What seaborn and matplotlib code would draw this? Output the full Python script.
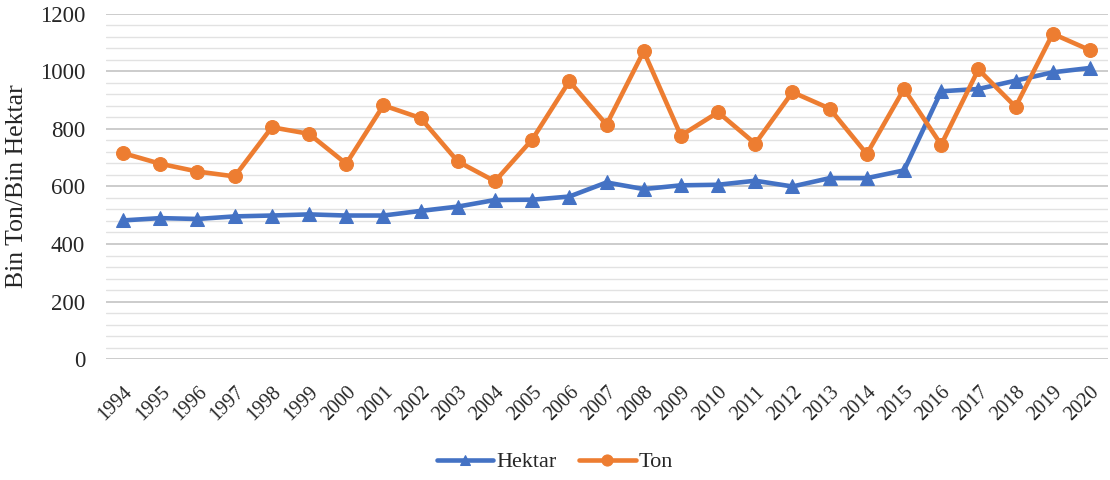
import matplotlib
matplotlib.use("Agg")
import matplotlib.pyplot as plt
import matplotlib.transforms as mtransforms
import seaborn as sns
import pandas as pd
from matplotlib.ticker import MultipleLocator

years = list(range(1994, 2021))
hektar = [482, 490, 487, 496, 499, 503, 499, 499, 515, 530, 553, 554, 565, 614,
          591, 604, 606, 620, 600, 629, 629, 656, 931, 939, 968, 997, 1012]
ton = [716, 679, 652, 635, 806, 783, 679, 882, 838, 687, 618, 763, 966, 815,
       1070, 777, 858, 749, 928, 871, 713, 939, 745, 1007, 877, 1131, 1074]
year_labels = [str(y) for y in years]

sns.set_theme(style="white")
plt.rcParams['font.family'] = ['Liberation Serif', 'DejaVu Serif']

fig = plt.figure(figsize=(11.1, 4.8), dpi=100)
ax = fig.add_axes([0.0955, 0.252, 0.9025, 0.719])

pos = list(range(len(years)))
df = pd.DataFrame({"x": pos, "Hektar": hektar, "Ton": ton})

sns.lineplot(data=df, x="x", y="Hektar", ax=ax, color="#4472C4", linewidth=3.3,
             marker="^", markersize=9.5, markeredgecolor="#4472C4", label="Hektar", zorder=3)
sns.lineplot(data=df, x="x", y="Ton", ax=ax, color="#ED7D31", linewidth=3.3,
             marker="o", markersize=10, markeredgecolor="#ED7D31", label="Ton", zorder=4)

ax.set_ylim(0, 1200)
ax.set_xlim(-0.46, len(years) - 1 + 0.48)
ax.yaxis.set_major_locator(MultipleLocator(200))
ax.yaxis.set_minor_locator(MultipleLocator(40))
ax.grid(which="major", axis="y", color="#c8c8c8", linewidth=1.3)
ax.grid(which="minor", axis="y", color="#e2e2e2", linewidth=1.0)
ax.set_axisbelow(True)
for s in ax.spines.values():
    s.set_visible(False)

ax.set_xticks(pos)
ax.set_xticklabels(year_labels, rotation=45, ha="right", rotation_mode="anchor", fontsize=14.5)
offset = mtransforms.ScaledTranslation(5 / 100, 0, fig.dpi_scale_trans)
for lbl in ax.get_xticklabels():
    lbl.set_transform(lbl.get_transform() + offset)
ax.tick_params(axis="y", which="both", labelsize=16.5, length=0, pad=15)
ax.tick_params(axis="x", which="both", length=0, pad=17)
ax.set_xlabel("")
ax.set_ylabel("Bin Ton/Bin Hektar", fontsize=18.5)
ax.yaxis.set_label_coords(-0.0778, 0.5)

leg = ax.legend(loc="center", bbox_to_anchor=(0.5, 0.0375), bbox_transform=fig.transFigure,
                ncol=2, frameon=False,
                prop={"family": ["Liberation Serif", "DejaVu Serif"], "size": 16},
                handlelength=2.55, columnspacing=1.0, handletextpad=0.15,
                markerscale=0.8)

fig.savefig("out.png", dpi=100)
